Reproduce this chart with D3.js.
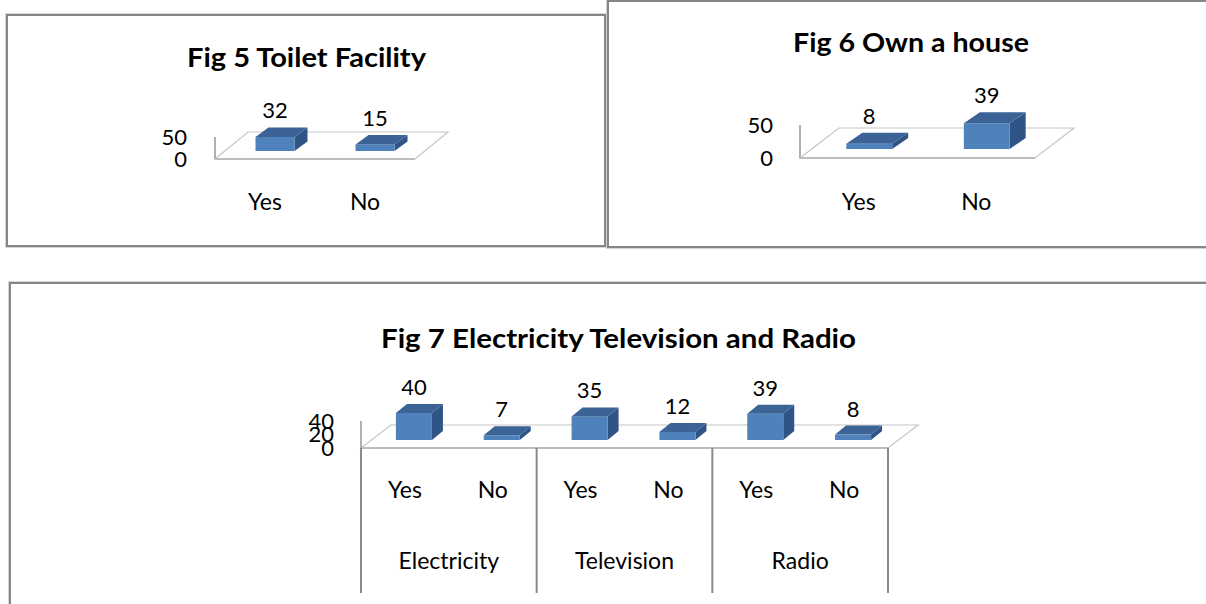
<!DOCTYPE html>
<html><head><meta charset="utf-8">
<script src="https://cdn.jsdelivr.net/npm/d3@7"></script>
<style>body{margin:0;background:#fff}svg{display:block}</style>
</head><body>
<svg id="c" width="1206" height="604"></svg>
<script>
// ---- data ----
const fig5Categories = ["Yes", "No"];
const fig5Values = [32, 15];
const fig5Ticks = [0, 50];

const fig6Categories = ["Yes", "No"];
const fig6Values = [8, 39];
const fig6Ticks = [0, 50];

const fig7Groups = ["Electricity", "Television", "Radio"];
const fig7Answers = ["Yes", "No"];
const fig7Values = [40, 7, 35, 12, 39, 8];
const fig7Ticks = [0, 20, 40];

const titles = ["Fig 5 Toilet Facility", "Fig 6 Own a house", "Fig 7 Electricity Television and Radio"];

// ---- drawing ----
const svg = d3.select("#c");
const FONT = "Lato, 'Open Sans', sans-serif";

function panel(x, y, w, h) {
  svg.append("rect").attr("x", x - 1.5).attr("y", y - 1.5).attr("width", w + 3).attr("height", h + 3)
    .attr("fill", "none").attr("stroke", "#d4d4d4").attr("stroke-width", 1);
  svg.append("rect").attr("x", x).attr("y", y).attr("width", w).attr("height", h)
    .attr("fill", "#fff").attr("stroke", "#868686").attr("stroke-width", 2);
}

function title(txt, cx, base, len) {
  svg.append("text").attr("x", cx).attr("y", base).attr("text-anchor", "middle")
    .attr("font-family", FONT).attr("font-weight", "bold").attr("font-size", 27)
    .attr("textLength", len).attr("lengthAdjust", "spacingAndGlyphs")
    .attr("fill", "#000").text(txt);
}

function chart3d(o) {
  const g = svg.append("g");
  const x = d3.scaleBand().domain(d3.range(o.values.length)).range([o.x0, o.x1]);
  const y = d3.scaleLinear().domain([0, o.max]).range([o.yF, o.yTop]);
  const [fdx, fdy] = o.floor;
  const line = d3.line();

  // floor
  g.append("path")
    .attr("d", line([[o.x0, o.yF], [o.x1, o.yF], [o.x1 + fdx, o.yF + fdy], [o.x0 + fdx, o.yF + fdy]]) + "Z")
    .attr("fill", "none").attr("stroke", "#c6c6c6").attr("stroke-width", 1.2);
  g.append("line").attr("x1", o.x0).attr("x2", o.x1).attr("y1", o.yF).attr("y2", o.yF)
    .attr("stroke", "#bdbdbd").attr("stroke-width", 2);
  // wall
  g.append("line").attr("x1", o.x0).attr("x2", o.x0).attr("y1", y(0)).attr("y2", y(o.max))
    .attr("stroke", "#b0b0b0").attr("stroke-width", 2);

  // axis labels
  const ax = g.append("g").attr("transform", `translate(${o.axisX},0)`)
    .call(d3.axisLeft(y).tickValues(o.ticks).tickSize(0).tickPadding(0));
  ax.select(".domain").remove();
  ax.selectAll("text").attr("font-family", FONT).attr("font-size", 22).attr("fill", "#000");

  // bars
  const bw = x.bandwidth() * o.bwFrac;
  const [bdx, bdy] = o.depth;
  o.values.forEach((v, i) => {
    const cx = x(i) + x.bandwidth() / 2 + o.off[0];
    const xl = cx - bw / 2, xr = cx + bw / 2;
    const yb = y(0) + o.off[1];
    const yt = yb - (y(0) - y(v));
    g.append("path")
      .attr("d", line([[xr, yt], [xr + bdx, yt + bdy], [xr + bdx, yb + bdy], [xr, yb]]) + "Z")
      .attr("fill", "#2f5485");
    g.append("rect").attr("x", xl).attr("y", yt).attr("width", bw).attr("height", yb - yt)
      .attr("fill", "#4f81bd");
    g.append("path")
      .attr("d", line([[xl, yt], [xr, yt], [xr + bdx, yt + bdy], [xl + bdx, yt + bdy]]) + "Z")
      .attr("fill", "#3b6396");
    g.append("text").attr("x", cx).attr("y", yt + bdy - 9).attr("text-anchor", "middle")
      .attr("font-family", FONT).attr("font-size", 22).attr("fill", "#000").text(v);
  });

  // category labels
  o.cats.forEach((c, i) => {
    g.append("text").attr("x", x(i) + x.bandwidth() / 2).attr("y", o.catY).attr("text-anchor", "middle")
      .attr("font-family", FONT).attr("font-size", 23).attr("fill", "#000").text(c);
  });
  return { g, x, y };
}

// panels
panel(7, 15, 598, 231);
panel(608, 1, 602, 246);
panel(10, 283, 1200, 330);

// Fig 5
title(titles[0], 306.5, 67, 239);
chart3d({
  values: fig5Values, cats: fig5Categories, ticks: fig5Ticks, max: 50,
  x0: 215, x1: 415, yF: 159, yTop: 137, floor: [33, -27],
  off: [10, -8], bwFrac: 0.39, depth: [13, -9.5], axisX: 187, catY: 210
});

// Fig 6
title(titles[1], 911, 52, 236);
chart3d({
  values: fig6Values, cats: fig6Categories, ticks: fig6Ticks, max: 50,
  x0: 800, x1: 1035, yF: 158, yTop: 125, floor: [39, -30],
  off: [10.5, -9], bwFrac: 0.39, depth: [16, -11], axisX: 773, catY: 210
});

// Fig 7
title(titles[2], 618.5, 348, 475);
const cats7 = fig7Groups.flatMap(() => fig7Answers);
const c7 = chart3d({
  values: fig7Values, cats: cats7, ticks: fig7Ticks, max: 40,
  x0: 361, x1: 888, yF: 448, yTop: 421, floor: [30, -23],
  off: [9, -8], bwFrac: 0.41, depth: [11, -9], axisX: 334, catY: 498
});
const gx = d3.scaleBand().domain(fig7Groups).range([361, 888]);
fig7Groups.forEach(gr => {
  c7.g.append("text").attr("x", gx(gr) + gx.bandwidth() / 2).attr("y", 569).attr("text-anchor", "middle")
    .attr("font-family", FONT).attr("font-size", 23).attr("fill", "#000").text(gr);
});
[...fig7Groups.map(gr => gx(gr)), 888].forEach(xv => {
  c7.g.append("line").attr("x1", xv).attr("x2", xv).attr("y1", 448).attr("y2", 593)
    .attr("stroke", "#8a8a8a").attr("stroke-width", 2);
});
</script>
</body></html>
